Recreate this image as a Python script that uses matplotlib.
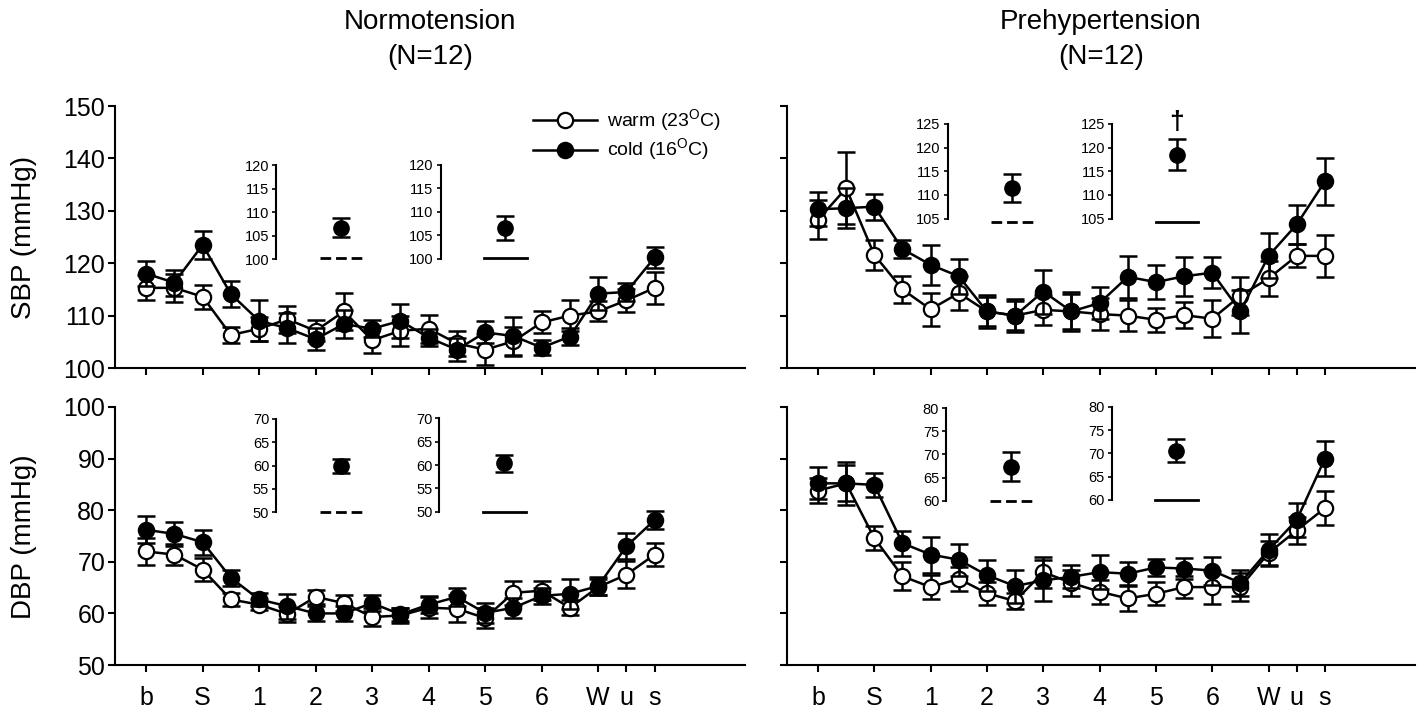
import matplotlib
matplotlib.use('Agg')
import matplotlib.pyplot as plt

plt.rcParams['font.family'] = ['Liberation Sans', 'DejaVu Sans']
plt.rcParams['mathtext.fontset'] = 'custom'
plt.rcParams['mathtext.rm'] = 'Liberation Sans'

# 19 time points, labelled only at some of them
x_pos = list(range(19))
tick_pos = [0, 2, 4, 6, 8, 10, 12, 14, 16, 17, 18]
tick_labels = ['b', 'S', '1', '2', '3', '4', '5', '6', 'W', 'u', 's']

# Normotension, SBP
nt_sbp_warm = [115.3, 115.3, 113.6, 106.3, 107.5, 109.3, 107.1, 110.8, 105.3, 107.1,
               107.5, 104.7, 103.5, 105.1, 108.7, 110.0, 110.8, 112.9, 115.3]
nt_sbp_warm_err = [2.4, 2.7, 2.3, 1.6, 2.3, 2.6, 2.0, 3.5, 2.4, 2.9,
                   2.7, 2.4, 2.9, 2.8, 2.1, 3.0, 1.9, 2.2, 3.0]
nt_sbp_cold = [118.0, 116.3, 123.5, 114.1, 109.0, 107.6, 105.5, 108.4, 107.5, 109.0,
               105.8, 103.5, 106.8, 106.1, 103.9, 106.0, 114.2, 114.5, 121.1]
nt_sbp_cold_err = [2.4, 2.5, 2.7, 2.5, 3.9, 2.9, 2.1, 2.7, 1.6, 3.3,
                   1.6, 2.2, 2.1, 3.6, 1.5, 1.6, 3.2, 1.8, 2.0]

# Prehypertension, SBP
ph_sbp_warm = [128.3, 134.3, 121.6, 115.0, 111.2, 114.3, 110.8, 110.0, 111.1, 110.8,
               110.3, 110.0, 109.2, 110.1, 109.4, 113.8, 117.1, 121.4, 121.4]
ph_sbp_warm_err = [3.7, 6.9, 2.9, 2.5, 3.2, 3.3, 2.7, 2.7, 2.8, 3.7,
                   3.1, 3.0, 2.3, 2.5, 3.5, 3.6, 3.3, 2.2, 4.0]
ph_sbp_cold = [130.3, 130.5, 130.8, 122.7, 119.7, 117.5, 110.8, 110.0, 114.6, 110.8,
               112.4, 117.4, 116.4, 117.5, 118.2, 110.8, 121.4, 127.4, 135.6]
ph_sbp_cold_err = [3.2, 3.8, 2.5, 1.7, 3.8, 3.4, 3.1, 3.2, 4.2, 3.3,
                   3.1, 4.0, 3.3, 3.7, 3.0, 4.1, 4.3, 3.8, 4.4]

# Normotension, DBP
nt_dbp_warm = [72.0, 71.4, 68.5, 62.7, 61.7, 59.9, 63.2, 62.0, 59.3, 59.6,
               61.1, 60.9, 59.1, 64.0, 64.4, 61.1, 65.1, 67.5, 71.4]
nt_dbp_warm_err = [2.7, 2.1, 2.3, 1.3, 1.0, 1.5, 1.3, 1.5, 1.8, 1.5,
                   2.0, 2.6, 2.0, 2.3, 1.8, 1.5, 1.5, 2.6, 2.3]
nt_dbp_cold = [76.2, 75.4, 73.8, 66.9, 62.7, 61.4, 60.0, 60.0, 62.0, 59.8,
               61.7, 63.2, 60.1, 61.1, 63.4, 63.8, 65.3, 73.0, 78.1]
nt_dbp_cold_err = [2.6, 2.3, 2.4, 1.5, 1.3, 2.4, 1.5, 1.5, 1.6, 1.3,
                   1.6, 1.7, 1.9, 1.9, 1.6, 2.9, 1.8, 2.5, 1.7]

# Prehypertension, DBP
ph_dbp_warm = [83.8, 85.2, 74.6, 67.2, 65.1, 66.7, 63.9, 62.4, 68.0, 65.9,
               64.2, 62.9, 63.8, 65.1, 65.1, 65.1, 71.7, 76.1, 80.4]
ph_dbp_warm_err = [2.4, 3.5, 2.3, 2.7, 2.3, 2.3, 2.2, 1.5, 3.0, 2.5,
                   2.3, 2.5, 2.2, 2.1, 3.2, 2.7, 2.3, 2.6, 3.3]
ph_dbp_cold = [85.2, 85.2, 84.9, 73.6, 71.4, 70.4, 67.4, 65.3, 66.4, 67.1,
               68.0, 67.7, 68.9, 68.7, 68.3, 65.9, 72.3, 78.1, 90.0]
ph_dbp_cold_err = [3.1, 4.2, 2.3, 2.4, 3.5, 3.1, 3.0, 3.2, 4.0, 2.2,
                   3.3, 2.2, 1.6, 2.1, 2.7, 2.6, 3.1, 3.2, 3.4]

# inset summaries (cold mean +/- SEM), warm reference level drawn as a line
nt_sbp_inset = [106.7, 106.5]
nt_sbp_inset_err = [2.0, 2.6]
ph_sbp_inset = [111.5, 118.5]
ph_sbp_inset_err = [3.0, 3.2]
nt_dbp_inset = [59.9, 60.4]
nt_dbp_inset_err = [1.4, 1.8]
ph_dbp_inset = [67.4, 70.6]
ph_dbp_inset_err = [3.2, 2.4]
inset_ref = {'nt_sbp': 100.2, 'ph_sbp': 104.3, 'nt_dbp': 50.0, 'ph_dbp': 60.0}

LW = 1.8
CAP = 6.5

fig = plt.figure(figsize=(14.17, 7.15), dpi=100)
ax_tl = fig.add_axes([0.0812, 0.4853, 0.4446, 0.3664])
ax_tr = fig.add_axes([0.5554, 0.4853, 0.4432, 0.3664])
ax_bl = fig.add_axes([0.0812, 0.0699, 0.4446, 0.3609])
ax_br = fig.add_axes([0.5554, 0.0699, 0.4432, 0.3609])


def draw_panel(ax, warm, warm_err, cold, cold_err, ylim, xlabels, ylabels):
    ax.errorbar(x_pos, warm, yerr=warm_err, fmt='none', ecolor='k',
                elinewidth=LW, capsize=CAP, capthick=LW, zorder=2)
    lw_, = ax.plot(x_pos, warm, 'o-', color='k', mfc='white', mec='k',
                   ms=11, mew=1.6, lw=LW, zorder=3)
    ax.errorbar(x_pos, cold, yerr=cold_err, fmt='none', ecolor='k',
                elinewidth=LW, capsize=CAP, capthick=LW, zorder=4)
    lc_, = ax.plot(x_pos, cold, 'o-', color='k', mfc='k', mec='k',
                   ms=11, mew=1.6, lw=LW, zorder=5)
    ax.set_xlim(-1.1, 21.2)
    ax.set_ylim(*ylim)
    ax.set_yticks(range(ylim[0], ylim[1] + 1, 10))
    ax.set_xticks(tick_pos)
    ax.set_xticklabels(tick_labels if xlabels else [])
    if not ylabels:
        ax.set_yticklabels([])
    for s in ['top', 'right']:
        ax.spines[s].set_visible(False)
    for s in ['left', 'bottom']:
        ax.spines[s].set_linewidth(1.5)
    ax.tick_params(direction='out', length=5, width=1.5, labelsize=18)
    ax.tick_params(axis='y', pad=2)
    ax.tick_params(axis='x', pad=10)
    return lw_, lc_


def draw_inset(ax, x0, y0, h, ylim, val, err, ref, ls, dagger=False):
    ins = ax.inset_axes([x0, y0, 3.5, h], transform=ax.transData)
    ins.patch.set_alpha(0)
    ins.errorbar([0], [val], yerr=[err], fmt='o', color='k', ms=11,
                 elinewidth=LW, capsize=CAP, capthick=LW)
    if ls == 'dashed':
        ins.plot([-0.75, 0.75], [ref, ref], color='k', lw=2,
                 linestyle=(0, (3.85, 1.75)), clip_on=False)
    else:
        ins.plot([-0.75, 0.75], [ref, ref], color='k', lw=2, clip_on=False)
    if dagger:
        ins.text(0, ylim[1] + 0.3, '\u2020', ha='center', va='center',
                 fontsize=19, fontweight='bold')
    ins.set_xlim(-2.3, 1.2)
    ins.set_ylim(*ylim)
    ins.set_yticks(range(ylim[0], ylim[1] + 1, 5))
    ins.set_xticks([])
    for s in ['top', 'right', 'bottom']:
        ins.spines[s].set_visible(False)
    ins.spines['left'].set_linewidth(1.5)
    ins.tick_params(axis='y', length=3, width=1.2, labelsize=10.5, pad=2)
    return ins


lw_, lc_ = draw_panel(ax_tl, nt_sbp_warm, nt_sbp_warm_err, nt_sbp_cold,
                      nt_sbp_cold_err, (100, 150), False, True)
draw_panel(ax_tr, ph_sbp_warm, ph_sbp_warm_err, ph_sbp_cold,
           ph_sbp_cold_err, (100, 150), False, False)
draw_panel(ax_bl, nt_dbp_warm, nt_dbp_warm_err, nt_dbp_cold,
           nt_dbp_cold_err, (50, 100), True, True)
draw_panel(ax_br, ph_dbp_warm, ph_dbp_warm_err, ph_dbp_cold,
           ph_dbp_cold_err, (50, 100), True, False)

draw_inset(ax_tl, 4.6, 120.8, 17.9, (100, 120), nt_sbp_inset[0],
           nt_sbp_inset_err[0], inset_ref['nt_sbp'], 'dashed')
draw_inset(ax_tl, 10.42, 120.9, 17.9, (100, 120), nt_sbp_inset[1],
           nt_sbp_inset_err[1], inset_ref['nt_sbp'], 'solid')
draw_inset(ax_tr, 4.6, 128.5, 18.1, (105, 125), ph_sbp_inset[0],
           ph_sbp_inset_err[0], inset_ref['ph_sbp'], 'dashed')
draw_inset(ax_tr, 10.45, 128.5, 18.1, (105, 125), ph_sbp_inset[1],
           ph_sbp_inset_err[1], inset_ref['ph_sbp'], 'solid', dagger=True)
draw_inset(ax_bl, 4.6, 79.6, 18.1, (50, 70), nt_dbp_inset[0],
           nt_dbp_inset_err[0], inset_ref['nt_dbp'], 'dashed')
draw_inset(ax_bl, 10.38, 79.7, 18.1, (50, 70), nt_dbp_inset[1],
           nt_dbp_inset_err[1], inset_ref['nt_dbp'], 'solid')
draw_inset(ax_br, 4.55, 81.8, 18.0, (60, 80), ph_dbp_inset[0],
           ph_dbp_inset_err[0], inset_ref['ph_dbp'], 'dashed')
draw_inset(ax_br, 10.43, 82.0, 18.0, (60, 80), ph_dbp_inset[1],
           ph_dbp_inset_err[1], inset_ref['ph_dbp'], 'solid')

ax_tl.legend([lw_, lc_], ['warm (23$^{\\rm O}$C)', 'cold (16$^{\\rm O}$C)'],
             loc='upper left', bbox_to_anchor=(0.663, 0.995), frameon=False,
             fontsize=14, handlelength=3.3, handletextpad=0.5,
             labelspacing=0.15, borderpad=0, borderaxespad=0)

ax_tl.set_title('Normotension\n(N=12)', fontsize=20, pad=30, linespacing=1.45)
ax_tr.set_title('Prehypertension\n(N=12)', fontsize=20, pad=30, linespacing=1.45)

fig.text(24 / 1417, 0.668, 'SBP (mmHg)', rotation=90, ha='center',
         va='center', fontsize=20)
fig.text(24 / 1417, 0.250, 'DBP (mmHg)', rotation=90, ha='center',
         va='center', fontsize=20)

fig.savefig('out.png', dpi=100)
